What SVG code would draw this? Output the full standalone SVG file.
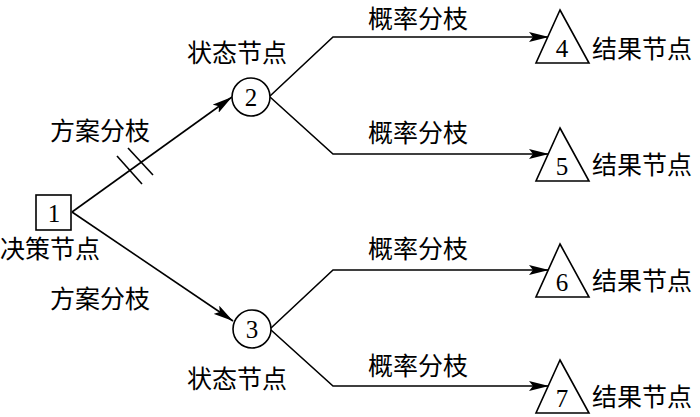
<svg xmlns="http://www.w3.org/2000/svg" width="700" height="417" viewBox="0 0 700 417">
<style>
.s{fill:none;stroke:#000;stroke-width:1.6}
.n{fill:#fff;stroke:#000;stroke-width:1.6}
.t{font-family:"Noto Sans CJK SC",sans-serif;font-size:25px;fill:#000}
.d{font-family:"Liberation Serif",serif;font-size:25px;fill:#000;text-anchor:middle}
</style>
<defs><marker id="a" markerWidth="20" markerHeight="10" refX="20" refY="5" orient="auto" markerUnits="userSpaceOnUse"><path d="M0,0 L20,5 L0,10 L4,5 Z" fill="#000"/></marker></defs>
<rect width="700" height="417" fill="#fff"/>
<g id="connectors">
<line class="s" x1="72" y1="212" x2="232" y2="97" marker-end="url(#a)"/>
<line class="s" x1="72" y1="212" x2="233" y2="321" marker-end="url(#a)"/>
<line class="s" x1="117" y1="156" x2="142" y2="184"/>
<line class="s" x1="128" y1="148" x2="153" y2="175"/>
<polyline class="s" points="270,96 333,37 549,37" marker-end="url(#a)"/>
<polyline class="s" points="270,97 333,154 549,154" marker-end="url(#a)"/>
<polyline class="s" points="271,328 333,270 549,270" marker-end="url(#a)"/>
<polyline class="s" points="271,330 333,386 549,386" marker-end="url(#a)"/>
</g>
<g id="n1"><rect class="n" x="36" y="195" width="35" height="35"/><text class="d" x="54" y="222">1</text><text class="t" x="0" y="258">决策节点</text></g>
<g id="n2"><circle class="n" cx="251" cy="97" r="19"/><text class="d" x="251" y="106">2</text><text class="t" x="187" y="62">状态节点</text></g>
<g id="n3"><circle class="n" cx="252" cy="329" r="19"/><text class="d" x="252" y="338">3</text><text class="t" x="187" y="388">状态节点</text></g>
<g id="n4"><polygon class="n" points="560,10 589,63 536,63"/><text class="d" x="562" y="57">4</text><text class="t" x="592" y="58">结果节点</text></g>
<g id="n5"><polygon class="n" points="560,128 589,181 536,181"/><text class="d" x="562" y="175">5</text><text class="t" x="592" y="174">结果节点</text></g>
<g id="n6"><polygon class="n" points="560,244 589,297 536,297"/><text class="d" x="562" y="291">6</text><text class="t" x="592" y="290">结果节点</text></g>
<g id="n7"><polygon class="n" points="560,360 589,413 536,413"/><text class="d" x="562" y="407">7</text><text class="t" x="592" y="406">结果节点</text></g>
<g id="labels">
<text class="t" x="50" y="140">方案分枝</text>
<text class="t" x="50" y="308">方案分枝</text>
<text class="t" x="368" y="28">概率分枝</text>
<text class="t" x="368" y="142">概率分枝</text>
<text class="t" x="368" y="258">概率分枝</text>
<text class="t" x="368" y="375">概率分枝</text>
</g>
</svg>
